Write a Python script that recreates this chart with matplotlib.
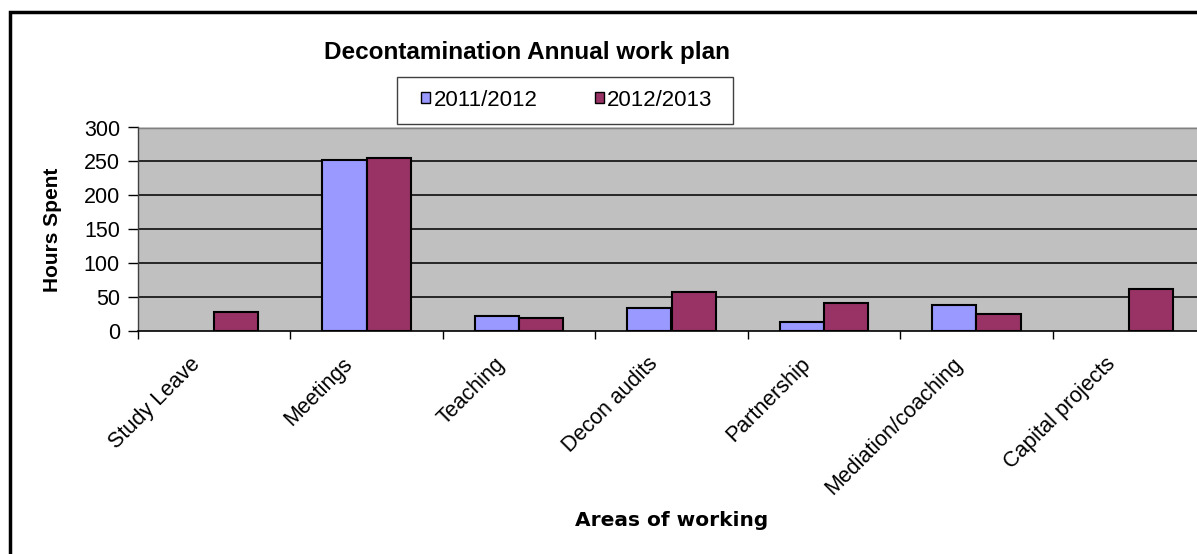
from matplotlib import pyplot as plt
from matplotlib.patches import Rectangle
import numpy as np

plt.rcParams['font.family'] = ['Liberation Sans', 'DejaVu Sans']

categories = ["Study Leave", "Meetings", "Teaching", "Decon audits",
              "Partnership", "Mediation/coaching", "Capital projects"]
hours_2011 = [0, 252, 22, 34, 14, 39, 0]
hours_2012 = [28, 255, 19, 57, 42, 25, 62]
series_names = ["2011/2012", "2012/2013"]


def main():
    fig = plt.figure(figsize=(11.97, 5.54), dpi=100)
    W, H = 1197, 554

    # outer chart frame (runs off the right and bottom edges)
    fig.patches.append(Rectangle((10 / W, -0.05), 1.2, 1 - 12 / H + 0.05,
                                 transform=fig.transFigure, fill=False,
                                 edgecolor='black', linewidth=2.5))

    ax = fig.add_axes([138 / W, 1 - 331 / H, 1067 / W, 203.5 / H])
    ax.set_facecolor('#C0C0C0')

    x = np.arange(len(categories))
    w = 0.29
    lw1 = [1.5 if v > 0 else 0 for v in hours_2011]
    lw2 = [1.5 if v > 0 else 0 for v in hours_2012]
    ax.bar(x - w / 2, hours_2011, w, color='#9999FF', edgecolor='black',
           linewidth=lw1, label=series_names[0], zorder=3)
    ax.bar(x + w / 2, hours_2012, w, color='#993366', edgecolor='black',
           linewidth=lw2, label=series_names[1], zorder=3)

    ax.set_xlim(-0.5, len(categories) - 0.5)
    ax.set_ylim(0, 300)
    ax.set_yticks(np.arange(0, 301, 50))
    for yv in range(50, 300, 50):
        ax.axhline(yv, color='#1a1a1a', linewidth=1.3, zorder=1)

    for s in ['top', 'right']:
        ax.spines[s].set_visible(False)
    ax.axhline(300, color='#808080', linewidth=2.5, zorder=2)
    ax.spines['left'].set_color('#404040')
    ax.spines['left'].set_linewidth(1)
    ax.spines['bottom'].set_color('black')
    ax.spines['bottom'].set_linewidth(1.2)
    ax.spines['bottom'].set_zorder(4)

    # labels sit a little left of the category centre, like Excel does
    ax.set_xticks(x - 0.16)
    ax.set_xticklabels(categories, rotation=45, ha='right',
                       rotation_mode='anchor', fontsize=15.5)
    ax.tick_params(axis='x', which='major', length=0, pad=16)
    ax.set_xticks(np.arange(-0.5, len(categories), 1), minor=True)
    ax.tick_params(axis='x', which='minor', length=6, width=1, color='black')
    ax.tick_params(axis='y', length=7, width=1, labelsize=15.5, pad=6)

    fig.text(672 / W, 1 - 520 / H, "Areas of working", fontsize=14.5,
             fontweight='bold', ha='center', va='center',
             family=['DejaVu Sans'])
    fig.text(52 / W, 1 - 230 / H, "Hours Spent", fontsize=15,
             fontweight='bold', ha='center', va='center', rotation=90)
    fig.text(527 / W, 1 - 53 / H, "Decontamination Annual work plan",
             fontsize=17.5, fontweight='bold', ha='center', va='center')

    # legend box drawn separately so its padding matches
    fig.patches.append(Rectangle((397 / W, 1 - 124 / H), 336 / W, 47 / H,
                                 transform=fig.transFigure, facecolor='white',
                                 edgecolor='#404040', linewidth=1, zorder=5))
    leg = fig.legend(loc='center', bbox_to_anchor=(567 / W, 1 - 100 / H),
                     ncol=2, fontsize=16, frameon=False,
                     handlelength=0.4, handleheight=0.4,
                     handletextpad=0.15, columnspacing=2.6, borderpad=0,
                     borderaxespad=0)
    leg.set_zorder(6)
    for h in leg.legend_handles:
        h.set_linewidth(1)
        h.set_edgecolor('black')

    fig.savefig("out.png", dpi=100)


if __name__ == "__main__":
    main()
